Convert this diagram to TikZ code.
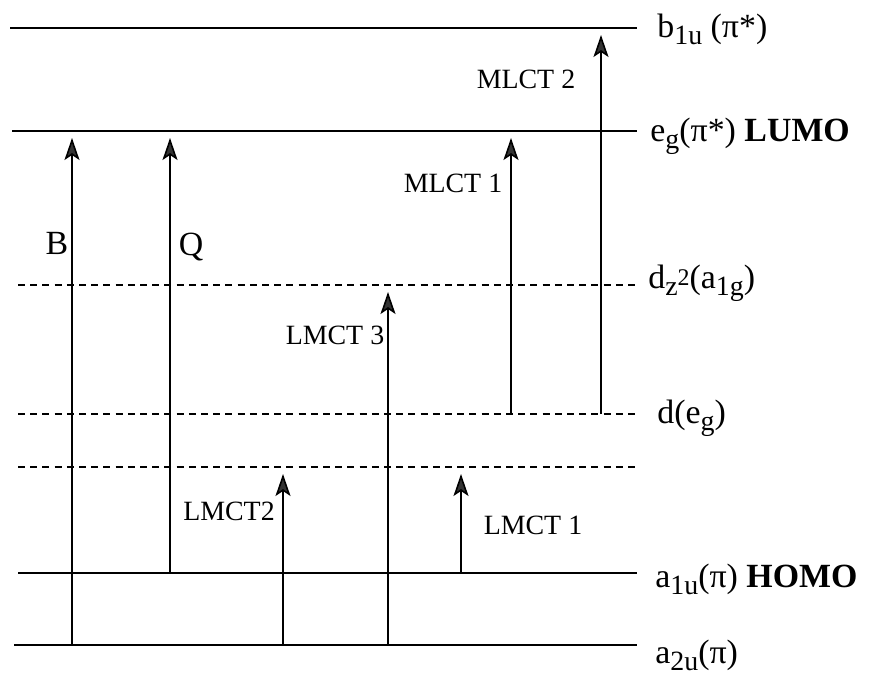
\documentclass[tikz,border=0pt]{standalone}
\usepackage{fontspec}
\setmainfont{Liberation Serif}
\usetikzlibrary{arrows.meta}
\newcommand{\lo}[1]{\raisebox{-3.5bp}{\fontsize{14}{16}\selectfont #1}}
\newcommand{\hi}[1]{\raisebox{1.5bp}{\fontsize{12}{14}\selectfont #1}}

\begin{document}
\begin{tikzpicture}[x=0.5bp,y=-0.5bp,
  level/.style={line width=1bp},
  dlevel/.style={line width=0.85bp,dash pattern=on 3.5bp off 2.6bp},
  trans/.style={line width=0.8bp,-{Stealth[length=11bp,width=7.5bp,inset=2.5bp,fill=black!80]},shorten >=3.5bp},
  lvllbl/.style={anchor=base west,inner sep=0pt,font=\fontsize{17}{20}\selectfont},
  tlbl/.style={inner sep=0pt,font=\fontsize{14}{17}\selectfont}]
  \useasboundingbox (0,0) rectangle (874,677);
  % levels
  \coordinate (b1uL) at (10,28);  \coordinate (b1uR) at (637,28);
  \coordinate (egL) at (12,131);  \coordinate (egR) at (637,131);
  \coordinate (dzL) at (18,285);  \coordinate (dzR) at (637,285);
  \coordinate (deL) at (18,414);  \coordinate (deR) at (637,414);
  \coordinate (dxL) at (18,467);  \coordinate (dxR) at (640,467);
  \coordinate (a1uL) at (18,573); \coordinate (a1uR) at (637,573);
  \coordinate (a2uL) at (14,645); \coordinate (a2uR) at (637,645);
  \draw[level] (b1uL) -- (b1uR);
  \draw[level] (egL) -- (egR);
  \draw[dlevel] (dzL) -- (dzR);
  \draw[dlevel] (deL) -- (deR);
  \draw[dlevel] (dxL) -- (dxR);
  \draw[level] (a1uL) -- (a1uR);
  \draw[level] (a2uL) -- (a2uR);
  \node[lvllbl] (b1u) at (657,38) {b\lo{1u} (π*)};
  \node[lvllbl] (eg) at (650,142) {e\lo{g}(π*) \textbf{LUMO}};
  \node[lvllbl] (dz) at (648,288) {d\lo{z}\hi{2}(a\lo{1g})};
  \node[lvllbl] (de) at (657,423) {d(e\lo{g})};
  \node[lvllbl] (a1u) at (655,587) {a\lo{1u}(π) \textbf{HOMO}};
  \node[lvllbl] (a2u) at (655,663) {a\lo{2u}(π)};
  % transitions
  \coordinate (xB) at (72,0);    \coordinate (xQ) at (170,0);
  \coordinate (xL2) at (283,0);  \coordinate (xL3) at (388,0);
  \coordinate (xL1) at (461,0);  \coordinate (xM1) at (511,0);
  \coordinate (xM2) at (601,0);
  \draw[trans] (xB |- a2uL) -- (xB |- egL);
  \draw[trans] (xQ |- a1uL) -- (xQ |- egL);
  \draw[trans] (xL2 |- a2uL) -- (xL2 |- dxL);
  \draw[trans] (xL3 |- a2uL) -- (xL3 |- dzL);
  \draw[trans] (xL1 |- a1uL) -- (xL1 |- dxL);
  \draw[trans] (xM1 |- deL) -- (xM1 |- egL);
  \draw[trans] (xM2 |- deL) -- (xM2 |- b1uL);
  \node[tlbl,anchor=base,font=\fontsize{17}{20}\selectfont] (lB) at (57,255) {B};
  \node[tlbl,anchor=base,font=\fontsize{17}{20}\selectfont] (lQ) at (191,256) {Q};
  \node[tlbl] (lL2) at (229,511) {LMCT2};
  \node[tlbl] (lL3) at (335,335) {LMCT 3};
  \node[tlbl] (lL1) at (533,525) {LMCT 1};
  \node[tlbl] (lM1) at (453,183) {MLCT 1};
  \node[tlbl] (lM2) at (526,79) {MLCT 2};
\end{tikzpicture}
\end{document}
